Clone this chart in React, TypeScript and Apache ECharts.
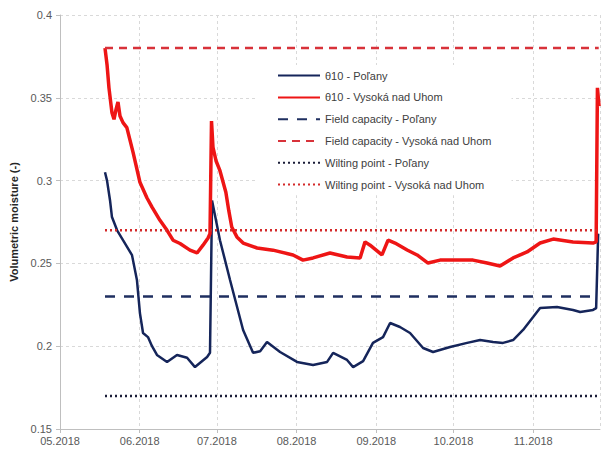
import React, { useEffect, useRef } from "react";
import * as echarts from "echarts";

// θ10 soil moisture, Poľany station
const polanyTheta: [string, number][] = [
  ["2018-05-18 12:00", 0.305], ["2018-05-19 07:00", 0.3], ["2018-05-20 11:00", 0.288],
  ["2018-05-21 05:00", 0.278], ["2018-05-23 05:00", 0.27], ["2018-05-25 12:00", 0.264],
  ["2018-05-29 00:00", 0.255], ["2018-05-30 22:00", 0.24], ["2018-06-01 02:00", 0.22],
  ["2018-06-02 07:00", 0.208], ["2018-06-04 05:00", 0.2055], ["2018-06-05 19:00", 0.2],
  ["2018-06-07 17:00", 0.1947], ["2018-06-11 15:00", 0.1905], ["2018-06-15 12:00", 0.1947],
  ["2018-06-19 10:00", 0.193], ["2018-06-22 12:00", 0.1874], ["2018-06-27 05:00", 0.1935],
  ["2018-06-28 08:00", 0.196], ["2018-06-29 03:00", 0.288], ["2018-07-02 05:00", 0.264],
  ["2018-07-06 03:00", 0.24], ["2018-07-11 05:00", 0.2098], ["2018-07-15 02:00", 0.196],
  ["2018-07-17 20:00", 0.197], ["2018-07-20 12:00", 0.2025], ["2018-07-25 14:00", 0.1965],
  ["2018-08-01 04:00", 0.1905], ["2018-08-07 10:00", 0.1887], ["2018-08-12 21:00", 0.1905],
  ["2018-08-15 05:00", 0.196], ["2018-08-20 15:00", 0.1917], ["2018-08-23 00:00", 0.1874],
  ["2018-08-26 21:00", 0.191], ["2018-08-30 17:00", 0.202], ["2018-09-03 15:00", 0.2055],
  ["2018-09-06 09:00", 0.214], ["2018-09-10 05:00", 0.2116], ["2018-09-14 03:00", 0.208],
  ["2018-09-19 05:00", 0.1989], ["2018-09-23 02:00", 0.1965], ["2018-09-29 17:00", 0.1995],
  ["2018-10-06 08:00", 0.202], ["2018-10-11 09:00", 0.2037], ["2018-10-16 10:00", 0.2025],
  ["2018-10-20 07:00", 0.202], ["2018-10-24 05:00", 0.2037], ["2018-10-28 02:00", 0.2098],
  ["2018-11-01 00:00", 0.2176], ["2018-11-03 17:00", 0.2231], ["2018-11-10 07:00", 0.2237],
  ["2018-11-16 12:00", 0.2219], ["2018-11-19 07:00", 0.2207], ["2018-11-24 07:00", 0.2219],
  ["2018-11-25 12:00", 0.223], ["2018-11-26 07:00", 0.268],
];

// θ10 soil moisture, Vysoká nad Uhom station
const vysokaTheta: [string, number][] = [
  ["2018-05-18 12:00", 0.38], ["2018-05-19 07:00", 0.37], ["2018-05-20 01:00", 0.356],
  ["2018-05-21 05:00", 0.341], ["2018-05-22 00:00", 0.337], ["2018-05-22 19:00", 0.343],
  ["2018-05-23 13:00", 0.3475], ["2018-05-24 08:00", 0.339], ["2018-05-25 12:00", 0.335],
  ["2018-05-27 00:00", 0.332], ["2018-05-29 10:00", 0.317], ["2018-06-01 02:00", 0.299],
  ["2018-06-03 20:00", 0.2895], ["2018-06-05 19:00", 0.284], ["2018-06-08 21:00", 0.276],
  ["2018-06-11 15:00", 0.27], ["2018-06-13 23:00", 0.264], ["2018-06-16 16:00", 0.262],
  ["2018-06-20 13:00", 0.258], ["2018-06-23 07:00", 0.2563], ["2018-06-25 15:00", 0.261],
  ["2018-06-27 14:00", 0.2653], ["2018-06-28 08:00", 0.268], ["2018-06-28 22:00", 0.336],
  ["2018-06-29 12:00", 0.32], ["2018-06-30 16:00", 0.312], ["2018-07-02 05:00", 0.306],
  ["2018-07-04 12:00", 0.293], ["2018-07-05 15:00", 0.282], ["2018-07-06 19:00", 0.272],
  ["2018-07-08 19:00", 0.266], ["2018-07-11 05:00", 0.2623], ["2018-07-16 15:00", 0.2593],
  ["2018-07-22 20:00", 0.258], ["2018-07-30 15:00", 0.2551], ["2018-08-03 12:00", 0.252],
  ["2018-08-07 10:00", 0.2533], ["2018-08-14 00:00", 0.2563], ["2018-08-20 15:00", 0.2539],
  ["2018-08-25 17:00", 0.2533], ["2018-08-27 15:00", 0.263], ["2018-08-29 14:00", 0.261],
  ["2018-09-03 05:00", 0.2551], ["2018-09-05 14:00", 0.2641], ["2018-09-08 07:00", 0.2623],
  ["2018-09-13 00:00", 0.2581], ["2018-09-16 21:00", 0.2551], ["2018-09-21 03:00", 0.2502],
  ["2018-09-25 19:00", 0.252], ["2018-10-02 10:00", 0.252], ["2018-10-08 15:00", 0.252],
  ["2018-10-14 02:00", 0.2502], ["2018-10-19 03:00", 0.2484], ["2018-10-24 05:00", 0.2533],
  ["2018-10-29 15:00", 0.2569], ["2018-11-03 17:00", 0.2623], ["2018-11-08 19:00", 0.2647],
  ["2018-11-16 12:00", 0.2629], ["2018-11-24 07:00", 0.2623], ["2018-11-25 12:00", 0.263],
  ["2018-11-26 00:00", 0.356], ["2018-11-26 15:00", 0.345],
];

// Soil hydro-limits (constant over the measured period)
const periodStart = "2018-05-18 12:00";
const periodEnd = "2018-11-26 12:00";
const fieldCapacityPolany = 0.23;
const fieldCapacityVysoka = 0.38;
const wiltingPointPolany = 0.17;
const wiltingPointVysoka = 0.27;

const seriesNames = [
  "θ10 - Poľany",
  "θ10 - Vysoká nad Uhom",
  "Field capacity - Poľany",
  "Field capacity - Vysoká nad Uhom",
  "Wilting point - Poľany",
  "Wilting point - Vysoká nad Uhom",
];

const yTicks = { min: 0.15, max: 0.4, step: 0.05 };
const xRange = { min: "2018-05-01", max: "2018-11-27" };

const FONT = "'Liberation Sans', Arial, sans-serif";

const constLine = (v: number): [string, number][] => [
  [periodStart, v],
  [periodEnd, v],
];

export default function App() {
  const ref = useRef<HTMLDivElement>(null);

  useEffect(() => {
    if (!ref.current) return;
    const chart = echarts.init(ref.current, undefined, { renderer: "svg" });

    const line = (
      name: string,
      data: [string, number][],
      color: string,
      width: number,
      type: any = "solid"
    ) => ({
      name,
      type: "line",
      data,
      symbol: "none",
      smooth: false,
      lineStyle: { color, width, type, cap: "butt" },
      itemStyle: { color },
    });

    chart.setOption({
      animation: false,
      textStyle: { fontFamily: FONT },
      grid: { left: 60, right: 5, top: 15, bottom: 21, containLabel: false },
      legend: {
        orient: "vertical",
        left: 258,
        top: 65,
        padding: [5, 20, 5, 19],
        backgroundColor: "#ffffff",
        itemWidth: 42,
        itemHeight: 14,
        itemGap: 10.6,
        itemStyle: { opacity: 0 },
        textStyle: { fontSize: 11, color: "#404040", fontFamily: FONT },
        data: seriesNames,
      },
      xAxis: {
        type: "time",
        min: xRange.min,
        max: xRange.max,
        minInterval: 28 * 86400000,
        maxInterval: 31 * 86400000,
        axisLine: { show: true, lineStyle: { color: "#bfbfbf", width: 1 } },
        axisTick: { show: true, length: 4, lineStyle: { color: "#bfbfbf" } },
        axisLabel: {
          fontSize: 11,
          color: "#595959",
          margin: 6,
          fontFamily: FONT,
          formatter: (val: number) => {
            const d = new Date(val);
            const m = String(d.getMonth() + 1).padStart(2, "0");
            return `${m}.${d.getFullYear()}`;
          },
        },
        splitLine: { show: true, lineStyle: { color: "#d9d9d9", type: [3, 3], width: 1 } },
      },
      yAxis: {
        type: "value",
        min: yTicks.min,
        max: yTicks.max,
        interval: yTicks.step,
        name: "Volumetric moisture (-)",
        nameLocation: "middle",
        nameGap: 36,
        nameTextStyle: { fontSize: 11, fontWeight: "bold", color: "#262626", fontFamily: FONT },
        axisLine: { show: true, lineStyle: { color: "#bfbfbf", width: 1 } },
        axisTick: { show: true, length: 4, lineStyle: { color: "#bfbfbf" } },
        axisLabel: { fontSize: 11, color: "#595959", margin: 8, fontFamily: FONT },
        splitLine: { show: true, lineStyle: { color: "#d9d9d9", type: [3, 3], width: 1 } },
      },
      series: [
        line(seriesNames[0], polanyTheta, "#15255a", 2.5),
        line(seriesNames[1], vysokaTheta, "#ee1515", 3.5),
        line(seriesNames[2], constLine(fieldCapacityPolany), "#1f2f60", 2.5, [10, 9]),
        line(seriesNames[3], constLine(fieldCapacityVysoka), "#d8323a", 2.5, [8, 6]),
        line(seriesNames[4], constLine(wiltingPointPolany), "#1a1d38", 2.5, [2, 3]),
        line(seriesNames[5], constLine(wiltingPointVysoka), "#d42a2a", 2.5, [2, 3]),
      ],
    });

    return () => chart.dispose();
  }, []);

  return (
    <div
      ref={ref}
      style={{ position: "absolute", left: 0, top: 0, width: 605, height: 450 }}
    />
  );
}
